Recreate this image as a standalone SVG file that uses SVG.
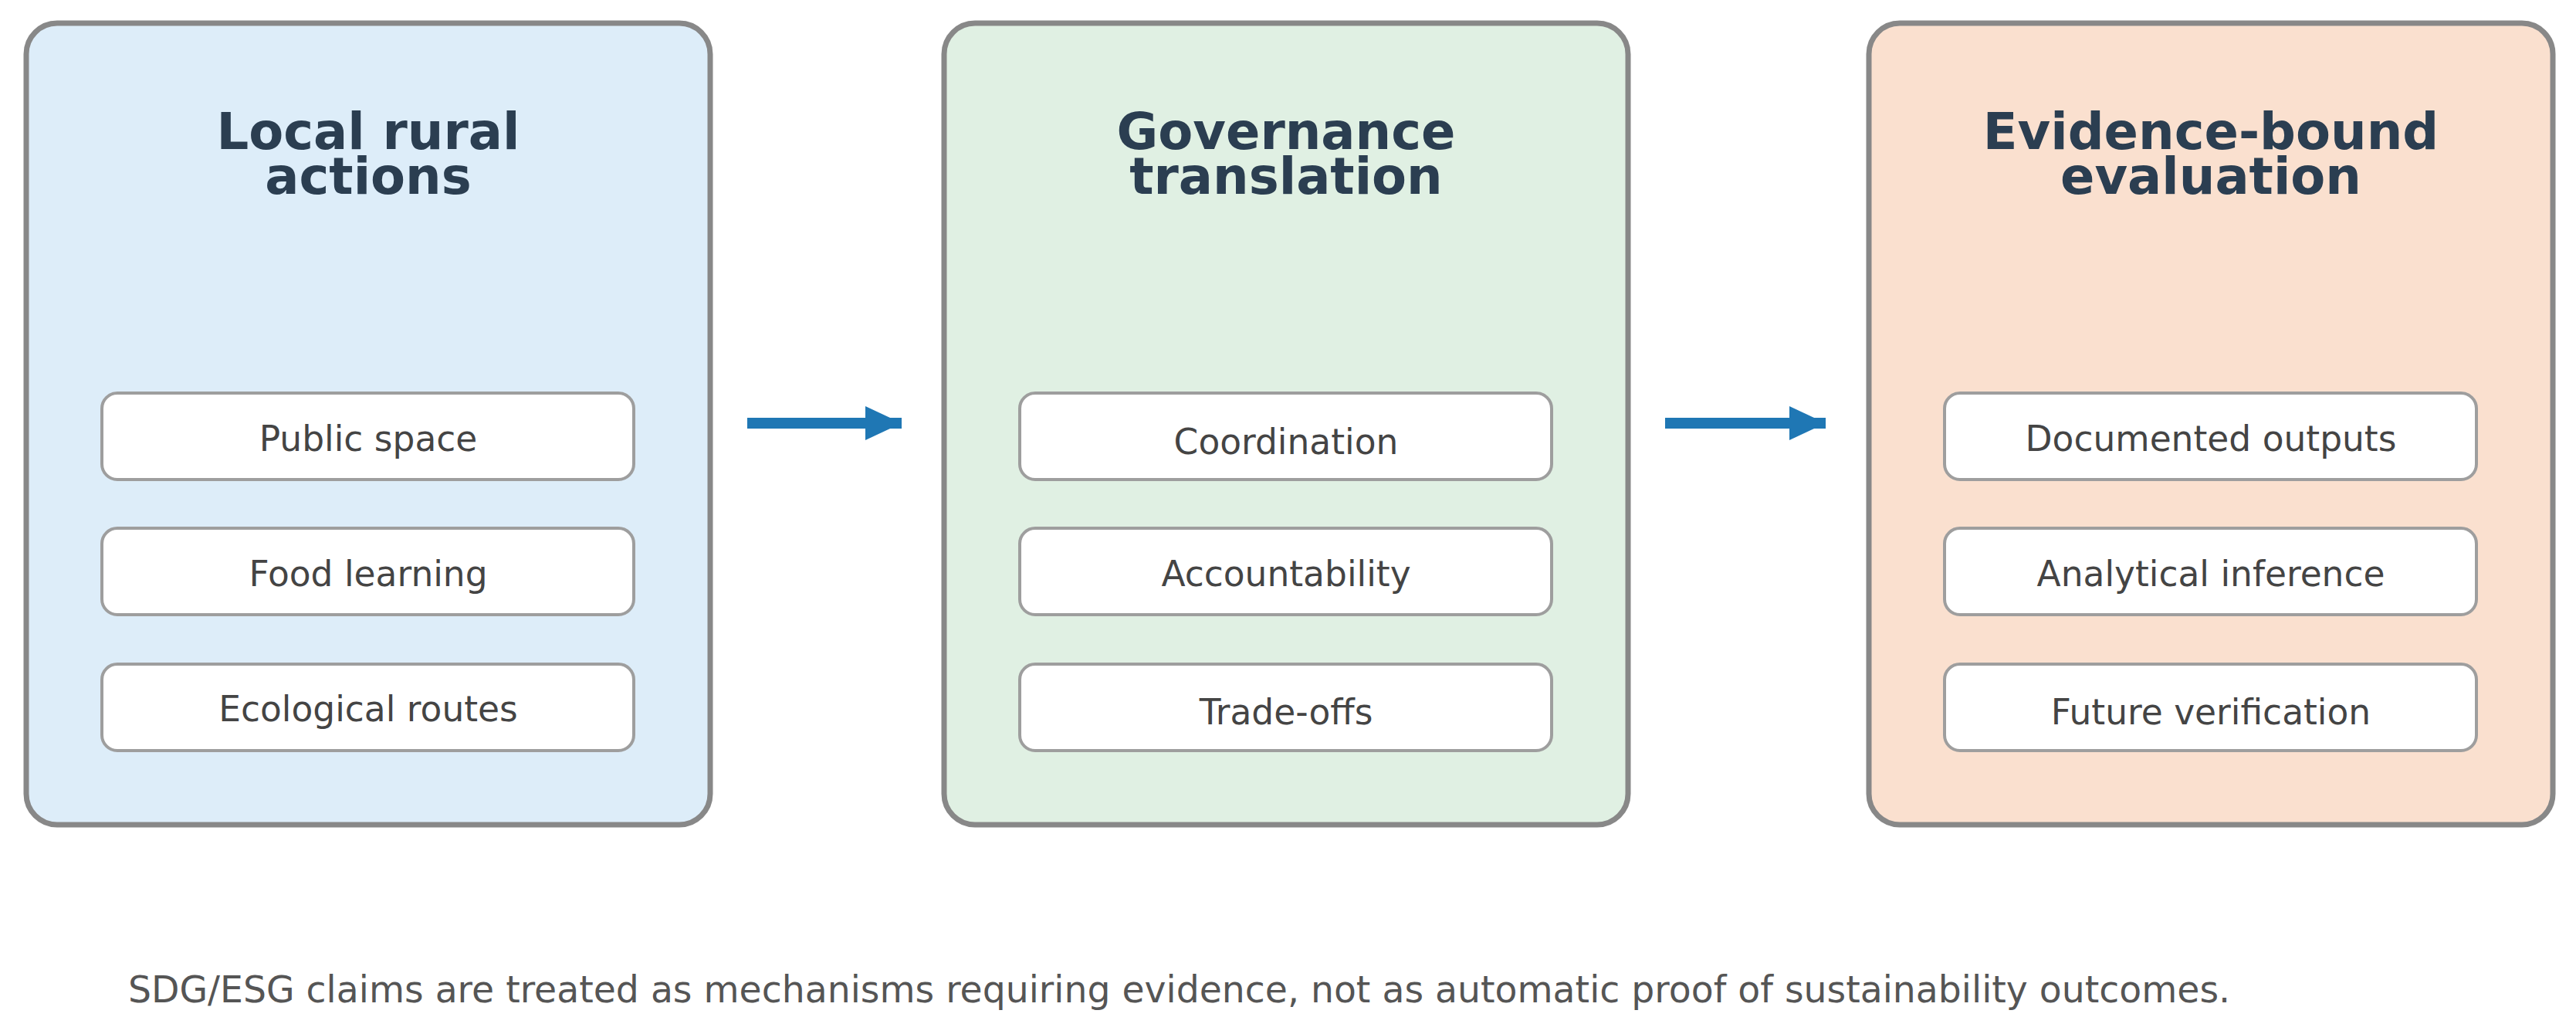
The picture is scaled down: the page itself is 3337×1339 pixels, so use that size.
<svg xmlns="http://www.w3.org/2000/svg" width="3337" height="1339" viewBox="0 0 3337 1339">
<defs>
<marker id="ah" markerUnits="userSpaceOnUse" markerWidth="48" markerHeight="44" refX="47" refY="22" orient="auto" overflow="visible">
<path d="M0,0 L47,22 L0,44 Z" fill="#1f77b4"/>
</marker>
<style>
.panel{stroke:#888888;stroke-width:7}
.item{fill:#ffffff;stroke:#9e9e9e;stroke-width:4}
.title{font-family:"DejaVu Sans",Verdana,sans-serif;font-weight:bold;font-size:65.5px;fill:#2b3e51;text-anchor:middle}
.lbl{font-family:"DejaVu Sans",Verdana,sans-serif;font-size:45.5px;fill:#444444;text-anchor:middle}
.note{font-family:"DejaVu Sans",Verdana,sans-serif;font-size:47.3px;fill:#555555}
.conn{stroke:#1f77b4;stroke-width:14;fill:none;marker-end:url(#ah)}
</style>
</defs>
<rect width="3337" height="1339" fill="#ffffff"/>
<g id="panel-local">
<rect class="panel" x="34" y="30" width="886" height="1038" rx="40" fill="#ddedf9"/>
<text class="title" x="477" y="193">Local rural</text>
<text class="title" x="477" y="251">actions</text>
<g id="item-public-space"><rect class="item" x="132" y="509" width="689" height="112" rx="20"/><text class="lbl" x="477" y="584">Public space</text></g>
<g id="item-food-learning"><rect class="item" x="132" y="684" width="689" height="112" rx="20"/><text class="lbl" x="477" y="759">Food learning</text></g>
<g id="item-ecological-routes"><rect class="item" x="132" y="860" width="689" height="112" rx="20"/><text class="lbl" x="477" y="934">Ecological routes</text></g>
</g>
<g id="panel-governance">
<rect class="panel" x="1223" y="30" width="886" height="1038" rx="40" fill="#e0f0e3"/>
<text class="title" x="1666" y="193">Governance</text>
<text class="title" x="1666" y="251">translation</text>
<g id="item-coordination"><rect class="item" x="1321" y="509" width="689" height="112" rx="20"/><text class="lbl" x="1666" y="588">Coordination</text></g>
<g id="item-accountability"><rect class="item" x="1321" y="684" width="689" height="112" rx="20"/><text class="lbl" x="1666" y="759">Accountability</text></g>
<g id="item-trade-offs"><rect class="item" x="1321" y="860" width="689" height="112" rx="20"/><text class="lbl" x="1666" y="938">Trade-offs</text></g>
</g>
<g id="panel-evidence">
<rect class="panel" x="2421" y="30" width="886" height="1038" rx="40" fill="#fae0cf"/>
<text class="title" x="2864" y="193">Evidence-bound</text>
<text class="title" x="2864" y="251">evaluation</text>
<g id="item-documented-outputs"><rect class="item" x="2519" y="509" width="689" height="112" rx="20"/><text class="lbl" x="2864" y="584">Documented outputs</text></g>
<g id="item-analytical-inference"><rect class="item" x="2519" y="684" width="689" height="112" rx="20"/><text class="lbl" x="2864" y="759">Analytical inference</text></g>
<g id="item-future-verification"><rect class="item" x="2519" y="860" width="689" height="112" rx="20"/><text class="lbl" x="2864" y="938">Future verification</text></g>
</g>
<g id="connectors">
<line class="conn" x1="968" y1="548" x2="1168" y2="548"/>
<line class="conn" x1="2157" y1="548" x2="2365" y2="548"/>
</g>
<g id="footnote">
<text class="note" x="166" y="1298">SDG/ESG claims are treated as mechanisms requiring evidence, not as automatic proof of sustainability outcomes.</text>
</g>
</svg>
